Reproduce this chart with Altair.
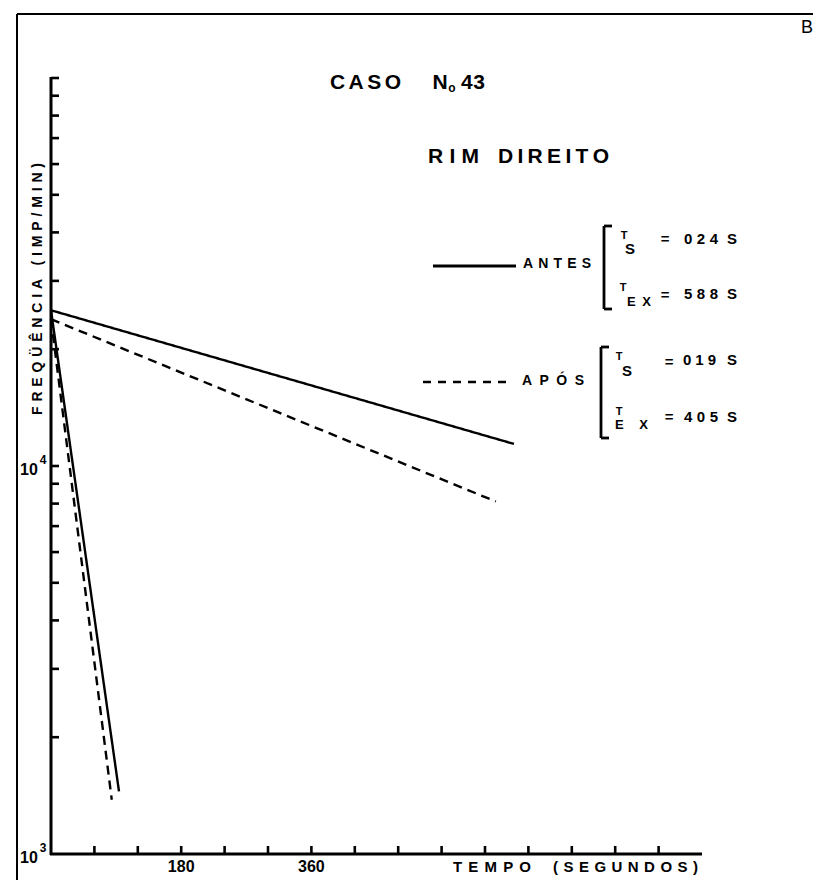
import altair as alt
import pandas as pd

# ---------------- chart values ----------------
tempo_antes_lento = [0, 640]
freq_antes_lento = [25200, 11400]
tempo_antes_rapido = [0, 94]
freq_antes_rapido = [25200, 1450]
tempo_apos_lento = [0, 615]
freq_apos_lento = [23900, 8100]
tempo_apos_rapido = [0, 84]
freq_apos_rapido = [23900, 1380]

x_ticks = [60, 120, 180, 240, 300, 360, 420, 480, 540, 600, 660, 720, 780, 840]
x_labels = [180, 360]
y_ticks = [2000, 3000, 4000, 5000, 6000, 7000, 8000, 9000, 10000,
           20000, 30000, 40000, 50000, 60000, 70000, 80000, 90000, 100000]
y_labels = [1000, 10000]
y_label_exp = ["3", "4"]

W, H = 651, 776
FONT = "Liberation Sans"

rows = []
for serie, comp, ts, fs in [
    ("ANTES", "lento", tempo_antes_lento, freq_antes_lento),
    ("ANTES", "rapido", tempo_antes_rapido, freq_antes_rapido),
    ("APÓS", "lento", tempo_apos_lento, freq_apos_lento),
    ("APÓS", "rapido", tempo_apos_rapido, freq_apos_rapido),
]:
    for t, f in zip(ts, fs):
        rows.append({"tempo": t, "freq": f, "serie": serie, "comp": serie + comp})
lines_df = pd.DataFrame(rows)

xs = alt.Scale(domain=[0, 900], nice=False, zero=False)
ys = alt.Scale(type="log", domain=[1000, 100000], nice=False)

lines = alt.Chart(lines_df).mark_line(color="black", strokeWidth=2.4).encode(
    x=alt.X("tempo:Q", scale=xs, axis=None),
    y=alt.Y("freq:Q", scale=ys, axis=None),
    detail="comp:N",
    strokeDash=alt.StrokeDash("serie:N",
                              scale=alt.Scale(domain=["ANTES", "APÓS"], range=[[1, 0], [9, 6]]),
                              legend=None),
)

# axis lines
axis_x = alt.Chart(pd.DataFrame({"k": [0]})).mark_rule(color="black", strokeWidth=3).encode(
    x=alt.value(-1), x2=alt.value(W), y=alt.value(H))
axis_y = alt.Chart(pd.DataFrame({"k": [0]})).mark_rule(color="black", strokeWidth=3).encode(
    x=alt.value(0), y=alt.value(-1), y2=alt.value(H + 1))

ytick_layer = alt.Chart(pd.DataFrame({"v": y_ticks})).mark_rule(color="black", strokeWidth=2.6).encode(
    y=alt.Y("v:Q", scale=ys, axis=None), x=alt.value(0), x2=alt.value(8))
xtick_layer = alt.Chart(pd.DataFrame({"t": x_ticks})).mark_rule(color="black", strokeWidth=2.6).encode(
    x=alt.X("t:Q", scale=xs, axis=None), y=alt.value(H), y2=alt.value(H - 8))

xlab_layer = alt.Chart(pd.DataFrame({"t": x_labels})).mark_text(
    font=FONT, fontSize=16, fontWeight="bold", color="black", baseline="middle").encode(
    x=alt.X("t:Q", scale=xs, axis=None), y=alt.value(H + 13), text=alt.Text("t:Q", format="d"))

ylab_df = pd.DataFrame({"v": y_labels, "exp": y_label_exp})
ylab_base = alt.Chart(ylab_df).mark_text(text="10", font=FONT, fontSize=16, fontWeight="bold",
                                         color="black", dy=4).encode(
    y=alt.Y("v:Q", scale=ys, axis=None), x=alt.value(-22))
ylab_exp = alt.Chart(ylab_df).mark_text(font=FONT, fontSize=12, fontWeight="bold",
                                        color="black", dy=-6).encode(
    y=alt.Y("v:Q", scale=ys, axis=None), x=alt.value(-8), text="exp:N")

# ---------------- lettering (annotation) helper ----------------
CW = {"A": 722, "C": 722, "D": 722, "E": 667, "F": 611, "G": 778, "I": 278, "M": 833,
      "N": 722, "O": 778, "P": 667, "Q": 778, "R": 722, "S": 667, "T": 611, "U": 722,
      "X": 667, "Ü": 722, "Ê": 667, "Ó": 778, "(": 333, ")": 333, "/": 278, "=": 584,
      " ": 278, "o": 611}


def place(text, a, b, c, size, vertical=False):
    widths = [CW.get(ch, 556) * size / 1000 for ch in text]
    n = len(text)
    gap = (abs(b - a) - sum(widths)) / (n - 1) if n > 1 else 0
    pos, out = 0.0, []
    for ch, w in zip(text, widths):
        center = pos + w / 2
        pos += w + gap
        if ch == " ":
            continue
        if vertical:
            out.append({"ch": ch, "px": c, "py": a - center, "size": size, "angle": 270})
        else:
            out.append({"ch": ch, "px": a + center, "py": c, "size": size, "angle": 0})
    return out


def one(ch, x, y, size):
    return [{"ch": ch, "px": x, "py": y, "size": size, "angle": 0}]


ann = []
ann += place("CASO", 279, 350, 5, 21)
ann += one("N", 389, 5, 21)
ann += one("o", 401, 10, 12)
ann += place("43", 410, 434, 5, 21)
ann += place("RIM", 377, 428, 79, 21)
ann += place("DIREITO", 447, 558, 79, 21)
ann += place("ANTES", 472, 540, 186, 14)
ann += place("APÓS", 471, 533, 303, 14)
# ANTES constants
ann += one("T", 573, 158, 11) + one("S", 579, 171, 15)
ann += one("=", 614, 161, 15) + place("024", 633, 667, 161, 15) + one("S", 681, 161, 15)
ann += one("T", 572, 210, 11) + place("EX", 576, 600, 224, 13)
ann += one("=", 614, 217, 15) + place("588", 633, 667, 216, 15) + one("S", 681, 216, 15)
# APÓS constants
ann += one("T", 568, 279, 11) + one("S", 576, 293, 15)
ann += one("=", 618, 284, 15) + place("019", 632, 665, 282, 15) + one("S", 681, 282, 15)
ann += one("T", 568, 334, 11) + place("EX", 564, 597, 347, 13)
ann += one("=", 618, 339, 15) + place("405", 633, 667, 339, 15) + one("S", 681, 339, 15)
# axis titles
ann += place("FREQÜÊNCIA (IMP/MIN)", 337, 85, -13, 14, vertical=True)
ann += place("TEMPO", 402, 480, 789, 15)
ann += place("(SEGUNDOS)", 502, 647, 789, 15)
ann_df = pd.DataFrame(ann)

text_layer = alt.Chart(ann_df).mark_text(font=FONT, fontWeight="bold", color="black",
                                         align="center", baseline="middle").encode(
    x=alt.X("px:Q", scale=None, axis=None),
    y=alt.Y("py:Q", scale=None, axis=None),
    text="ch:N",
    size=alt.Size("size:Q", scale=None, legend=None),
    angle=alt.Angle("angle:Q", scale=None, legend=None),
)

b_layer = alt.Chart(pd.DataFrame({"ch": ["B"]})).mark_text(
    font=FONT, fontSize=18, color="black", align="center", baseline="middle").encode(
    x=alt.value(756), y=alt.value(-50), text="ch:N")

# brackets and legend sample line
br = pd.DataFrame([
    {"x1": 553, "x2": 553, "y1": 148, "y2": 231},
    {"x1": 553, "x2": 561, "y1": 148, "y2": 148},
    {"x1": 553, "x2": 561, "y1": 231, "y2": 231},
    {"x1": 550, "x2": 550, "y1": 269, "y2": 360},
    {"x1": 550, "x2": 558, "y1": 269, "y2": 269},
    {"x1": 550, "x2": 558, "y1": 360, "y2": 360},
    {"x1": 382, "x2": 465, "y1": 188, "y2": 188},
])
br_layer = alt.Chart(br).mark_rule(color="black", strokeWidth=2.8).encode(
    x=alt.X("x1:Q", scale=None, axis=None), x2="x2:Q",
    y=alt.Y("y1:Q", scale=None, axis=None), y2="y2:Q")

dash_leg = alt.Chart(pd.DataFrame({"k": [0]})).mark_rule(
    color="black", strokeWidth=2.5, strokeDash=[8, 7]).encode(
    x=alt.value(372), x2=alt.value(459), y=alt.value(304))

frame = pd.DataFrame([
    {"x1": -34, "x2": 770, "y1": -64, "y2": -64},
    {"x1": -34, "x2": -34, "y1": -64, "y2": 812},
])
frame_layer = alt.Chart(frame).mark_rule(color="black", strokeWidth=2).encode(
    x=alt.X("x1:Q", scale=None, axis=None), x2="x2:Q",
    y=alt.Y("y1:Q", scale=None, axis=None), y2="y2:Q")

chart = alt.layer(
    lines, axis_x, axis_y, ytick_layer, xtick_layer, xlab_layer, ylab_base, ylab_exp,
    text_layer, b_layer, br_layer, dash_leg, frame_layer
).properties(
    width=W, height=H,
    padding={"left": 43, "top": 70, "right": 111, "bottom": 26},
    autosize=alt.AutoSizeParams(type="none"),
    background="white",
).configure_view(stroke=None)

chart.save("out.html", embed_options={"renderer": "svg", "actions": False})
